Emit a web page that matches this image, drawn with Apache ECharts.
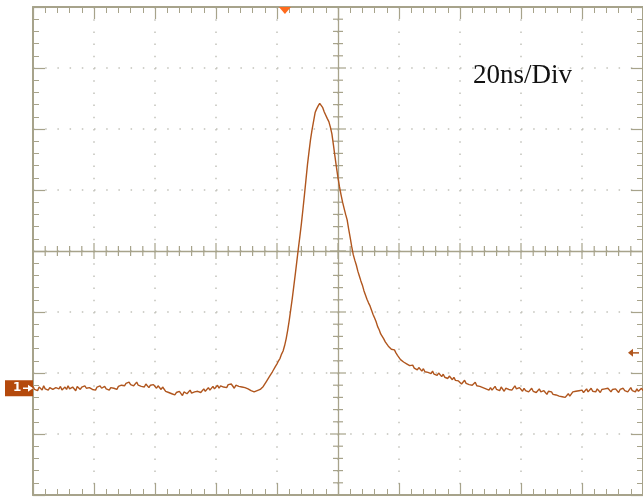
<!DOCTYPE html>
<html>
<head>
<meta charset="utf-8">
<script src="https://cdn.jsdelivr.net/npm/echarts@6/dist/echarts.min.js"></script>
<style>
  html, body { margin: 0; padding: 0; background: #fff; }
  #scope { width: 643px; height: 498px; }
</style>
</head>
<body>
<div id="scope"></div>
<script>
// sample record: first sample time and spacing (ns)
var t0 = -100;
var dt = 0.5;

// trace values in divisions, one per 0.5 ns from -100 to 100
var traceDiv = [
  -2.22, -2.27, -2.24, -2.29, -2.23, -2.25, -2.28, -2.21, -2.26, -2.23, -2.28, -2.24, -2.22, -2.27, -2.29, -2.24, -2.23, -2.26, -2.22, -2.28,
  -2.25, -2.23, -2.27, -2.21, -2.26, -2.28, -2.23, -2.25, -2.29, -2.22, -2.24, -2.27, -2.23, -2.26, -2.21, -2.25, -2.28, -2.24, -2.22, -2.27,
  -2.24, -2.28, -2.23, -2.26, -2.21, -2.25, -2.27, -2.22, -2.26, -2.23, -2.28, -2.24, -2.21, -2.25, -2.23, -2.27, -2.22, -2.24, -2.20, -2.23,
  -2.21, -2.17, -2.20, -2.15, -2.19, -2.16, -2.21, -2.18, -2.15, -2.20, -2.17, -2.22, -2.19, -2.23, -2.18, -2.21, -2.24, -2.20, -2.23, -2.19,
  -2.22, -2.25, -2.21, -2.24, -2.27, -2.23, -2.26, -2.30, -2.28, -2.32, -2.29, -2.34, -2.31, -2.36, -2.32, -2.35, -2.30, -2.33, -2.37, -2.31,
  -2.29, -2.34, -2.31, -2.28, -2.33, -2.36, -2.31, -2.34, -2.30, -2.27, -2.32, -2.29, -2.26, -2.30, -2.27, -2.24, -2.28, -2.25, -2.22, -2.26,
  -2.23, -2.20, -2.25, -2.21, -2.18, -2.23, -2.20, -2.24, -2.19, -2.22, -2.18, -2.21, -2.25, -2.20, -2.17, -2.22, -2.19, -2.23, -2.20, -2.24,
  -2.22, -2.26, -2.24, -2.29, -2.27, -2.31, -2.33, -2.29, -2.32, -2.27, -2.28, -2.22, -2.20, -2.14, -2.12, -2.06, -2.05, -1.98, -1.95, -1.89,
  -1.85, -1.80, -1.76, -1.69, -1.64, -1.55, -1.44, -1.30, -1.14, -0.96, -0.78, -0.58, -0.38, -0.17, 0.04, 0.24, 0.45, 0.68, 0.92, 1.17,
  1.42, 1.63, 1.83, 1.99, 2.13, 2.27, 2.33, 2.38, 2.42, 2.39, 2.35, 2.28, 2.26, 2.17, 2.12, 2.03, 1.92, 1.74, 1.55, 1.37,
  1.20, 1.05, 0.92, 0.80, 0.70, 0.60, 0.51, 0.36, 0.22, 0.07, -0.06, -0.15, -0.23, -0.33, -0.41, -0.49, -0.56, -0.65, -0.72, -0.79,
  -0.85, -0.90, -0.97, -1.04, -1.10, -1.16, -1.24, -1.29, -1.36, -1.39, -1.44, -1.49, -1.51, -1.56, -1.55, -1.61, -1.63, -1.62, -1.67, -1.71,
  -1.74, -1.78, -1.76, -1.82, -1.80, -1.85, -1.83, -1.88, -1.91, -1.87, -1.92, -1.89, -1.95, -1.91, -1.94, -1.97, -1.93, -1.98, -1.95, -1.99,
  -1.96, -2.01, -1.97, -2.02, -1.99, -2.04, -2.00, -2.03, -2.06, -2.02, -2.07, -2.04, -2.09, -2.05, -2.08, -2.11, -2.07, -2.12, -2.09, -2.13,
  -2.14, -2.18, -2.15, -2.12, -2.17, -2.14, -2.19, -2.16, -2.20, -2.17, -2.15, -2.21, -2.18, -2.22, -2.19, -2.24, -2.21, -2.26, -2.23, -2.28,
  -2.24, -2.28, -2.25, -2.22, -2.27, -2.24, -2.29, -2.23, -2.26, -2.30, -2.25, -2.22, -2.27, -2.24, -2.28, -2.25, -2.21, -2.26, -2.29, -2.24,
  -2.27, -2.30, -2.25, -2.29, -2.26, -2.31, -2.28, -2.25, -2.30, -2.27, -2.32, -2.29, -2.26, -2.31, -2.33, -2.29, -2.32, -2.35, -2.30, -2.33,
  -2.31, -2.35, -2.32, -2.36, -2.34, -2.38, -2.35, -2.39, -2.36, -2.40, -2.37, -2.34, -2.38, -2.35, -2.31, -2.34, -2.30, -2.33, -2.29, -2.31,
  -2.28, -2.32, -2.29, -2.26, -2.31, -2.28, -2.25, -2.30, -2.27, -2.31, -2.26, -2.29, -2.32, -2.27, -2.30, -2.26, -2.29, -2.25, -2.28, -2.31,
  -2.27, -2.30, -2.26, -2.29, -2.32, -2.27, -2.30, -2.25, -2.29, -2.26, -2.31, -2.28, -2.24, -2.29, -2.27, -2.31, -2.26, -2.30, -2.28, -2.25,
  -2.29
];

// graticule: 10 x 8 divisions, 5 subdivisions each
var timeMin = -100, timeMax = 100, timeDiv = 20;
var voltMin = -4, voltMax = 4, voltDivStep = 1;
var subDivs = 5;

// screen markers
var channelOffset = -2.25;
var triggerLevel = -1.67;
var triggerTime = -17.4;
var timebaseText = '20ns/Div';

var frameColor = '#a7a38b';
var dotColor = '#c2c2ba';
var traceColor = '#b0561e';

var points = [];
for (var i = 0; i < traceDiv.length; i++) {
  points.push([t0 + i * dt, traceDiv[i]]);
}

// cross ticks on the centre lines: [direction, value, isMajor]
var centerTicks = [];
var tStep = timeDiv / subDivs;
for (var k = 0; k <= (timeMax - timeMin) / tStep; k++) {
  centerTicks.push([0, timeMin + k * tStep, k % subDivs === 0 ? 1 : 0]);
}
var vStep = voltDivStep / subDivs;
for (var m = 0; m <= Math.round((voltMax - voltMin) / vStep); m++) {
  centerTicks.push([1, voltMin + m * vStep, m % subDivs === 0 ? 1 : 0]);
}

function scaleAxis(position, offset, min, max, interval, showTicks, len, minorLen, width) {
  return {
    type: 'value',
    position: position,
    offset: offset,
    min: min,
    max: max,
    interval: interval,
    axisLine: { show: true, onZero: false, lineStyle: { color: frameColor, width: width } },
    axisTick: { show: showTicks, inside: true, length: len, lineStyle: { color: frameColor, width: 1.2 } },
    minorTick: { show: showTicks, splitNumber: subDivs, length: minorLen, lineStyle: { color: frameColor, width: 1 } },
    axisLabel: { show: false },
    splitLine: { show: false }
  };
}

var dotted = { show: true, lineStyle: { color: dotColor, width: 1.5, type: [1.5, 10.7] } };

var xBottom = scaleAxis('bottom', 0, timeMin, timeMax, timeDiv, true, 12, 6, 2);
xBottom.splitLine = dotted;
var xTop = scaleAxis('top', 0, timeMin, timeMax, timeDiv, true, 12, 6, 2);
var xMid = scaleAxis('bottom', -244, timeMin, timeMax, timeDiv, false, 0, 0, 1.3);

var yLeft = scaleAxis('left', 0, voltMin, voltMax, voltDivStep, true, 12, 6, 2);
yLeft.splitLine = dotted;
var yRight = scaleAxis('right', 0, voltMin, voltMax, voltDivStep, true, 12, 6, 2);
var yMid = scaleAxis('left', -305, voltMin, voltMax, voltDivStep, false, 0, 0, 1.3);

var chart = echarts.init(document.getElementById('scope'));

chart.setOption({
  animation: false,
  backgroundColor: '#ffffff',
  grid: { left: 33, top: 7, right: 0, bottom: 3, outerBoundsMode: 'none', containLabel: false },
  xAxis: [xBottom, xTop, xMid],
  yAxis: [yLeft, yRight, yMid],
  series: [
    {
      type: 'custom',
      xAxisIndex: 0,
      yAxisIndex: 0,
      data: centerTicks,
      clip: false,
      silent: true,
      z: 3,
      encode: { x: 1, y: 1 },
      renderItem: function (params, api) {
        var dir = api.value(0);
        var val = api.value(1);
        var len = api.value(2) ? 8 : 5;
        var p = dir === 0 ? api.coord([val, 0]) : api.coord([0, val]);
        var shape = dir === 0
          ? { x1: p[0], y1: p[1] - len, x2: p[0], y2: p[1] + len }
          : { x1: p[0] - len, y1: p[1], x2: p[0] + len, y2: p[1] };
        return { type: 'line', shape: shape, style: { stroke: frameColor, lineWidth: 1.2 } };
      }
    },
    {
      type: 'line',
      data: points,
      xAxisIndex: 0,
      yAxisIndex: 0,
      symbol: 'none',
      lineStyle: { color: traceColor, width: 1.4 },
      z: 5
    }
  ]
});

// screen indicators placed through the chart scales
var chPos = chart.convertToPixel({ gridIndex: 0 }, [timeMin, channelOffset]);
var trigPos = chart.convertToPixel({ gridIndex: 0 }, [triggerTime, voltMax]);
var lvlPos = chart.convertToPixel({ gridIndex: 0 }, [timeMax, triggerLevel]);
var textPos = chart.convertToPixel({ gridIndex: 0 }, [44.3, 2.87]);

chart.setOption({
  graphic: [
    {
      type: 'rect',
      shape: { x: chPos[0] - 28, y: chPos[1] - 8, width: 28, height: 16 },
      style: { fill: '#b4490c' },
      z: 10
    },
    {
      type: 'text',
      style: {
        x: chPos[0] - 20, y: chPos[1], text: '1', fill: '#fff',
        font: 'bold 12px "DejaVu Sans"', verticalAlign: 'middle'
      },
      z: 11
    },
    {
      type: 'polyline',
      shape: { points: [[chPos[0] - 10, chPos[1]], [chPos[0] - 1, chPos[1]]] },
      style: { stroke: '#fff', lineWidth: 1.5 },
      z: 11
    },
    {
      type: 'polygon',
      shape: { points: [[chPos[0] - 5, chPos[1] - 3.5], [chPos[0], chPos[1]], [chPos[0] - 5, chPos[1] + 3.5]] },
      style: { fill: '#fff' },
      z: 11
    },
    {
      type: 'polygon',
      shape: { points: [[trigPos[0] - 6, trigPos[1]], [trigPos[0] + 6, trigPos[1]], [trigPos[0], trigPos[1] + 7]] },
      style: { fill: '#ff6a1c' },
      z: 10
    },
    {
      type: 'polyline',
      shape: { points: [[lvlPos[0] - 13, lvlPos[1]], [lvlPos[0] - 4, lvlPos[1]]] },
      style: { stroke: traceColor, lineWidth: 1.5 },
      z: 10
    },
    {
      type: 'polygon',
      shape: { points: [[lvlPos[0] - 15, lvlPos[1]], [lvlPos[0] - 10, lvlPos[1] - 4], [lvlPos[0] - 10, lvlPos[1] + 4]] },
      style: { fill: traceColor },
      z: 10
    },
    {
      type: 'text',
      style: {
        x: textPos[0], y: textPos[1], text: timebaseText, fill: '#111',
        font: '27px "Liberation Serif"', verticalAlign: 'middle'
      },
      z: 10
    }
  ]
});
</script>
</body>
</html>
